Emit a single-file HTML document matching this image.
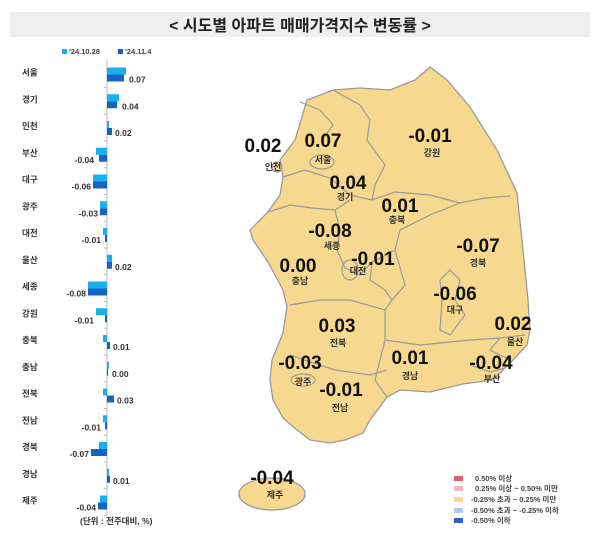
<!DOCTYPE html>
<html><head><meta charset="utf-8"><style>
body{margin:0;background:#fff;}
svg{display:block;font-family:"Liberation Sans","Noto Sans CJK KR",sans-serif;}
.v{font-weight:bold;font-size:19px;fill:#111;text-anchor:middle}
.r{font-size:9px;fill:#333;text-anchor:middle;font-weight:bold}
.l{font-size:8.5px;fill:#333;font-weight:bold}
.n{font-size:8.5px;fill:#333;font-weight:bold}
.g{font-size:7.5px;fill:#444;font-weight:bold}
</style></head><body>
<svg width="600" height="535" viewBox="0 0 600 535" xmlns="http://www.w3.org/2000/svg">
<rect x="10" y="12" width="580" height="25" fill="#efefef"/>
<text x="300" y="31" font-size="16" text-anchor="middle" fill="#222" font-weight="bold">&lt; 시도별 아파트 매매가격지수 변동률 &gt;</text>
<!-- bar legend -->
<rect x="62" y="49" width="5" height="5" fill="#1ab0ee"/><text x="69" y="54" class="g">'24.10.28</text>
<rect x="118" y="49" width="5" height="5" fill="#1565c0"/><text x="125" y="54" class="g">'24.11.4</text>
<line x1="107" y1="60" x2="107" y2="515" stroke="#bbb" stroke-width="1"/>
<g id="bars"></g>
<text x="80" y="524" class="l" font-size="8">(단위 : 전주대비, %)</text>
<!-- map -->
<g fill="#f6d98e" stroke="#9a9a9a" stroke-width="1.3">
<path d="M430,67 L447,80 L470,107 L497,150 L517,193 L523,250 L528,300 L530,330 L527,345 L513,360 L493,380 L463,384 L430,392 L400,390 L387,397 L370,420 L363,433 L345,440 L330,443 L310,440 L297,430 L283,418 L273,400 L270,380 L272,360 L283,333 L287,307 L283,290 L268,262 L253,240 L250,230 L267,213 L280,195 L283,177 L280,160 L295,140 L307,100 L333,90 L360,88 L390,90 L415,80 Z"/>
<circle cx="277" cy="167" r="5"/>
<ellipse cx="272" cy="494" rx="33" ry="16"/>
</g>
<g fill="none" stroke="#9a9a9a" stroke-width="1.2">
<path d="M333,90 L360,105 L370,120 L367,140 L385,165 L375,185 L372,200 L395,192 L430,195 L460,203 L485,198 L510,196"/>
<path d="M283,177 L305,170 L330,178 L350,195 L372,200"/>
<path d="M300,102 L320,110 L333,125 L322,140"/>
<path d="M268,212 L290,205 L312,208 L335,210 L350,200"/>
<path d="M460,203 L430,215 L400,230 L395,250 L405,285 L392,300 L385,310 L350,300 L320,300 L290,305"/>
<path d="M395,250 L372,262 L370,280 L385,290 L392,300"/>
<path d="M335,210 L340,230 L337,250 L345,268 L360,275 L372,262"/>
<path d="M385,310 L385,340 L380,360 L375,380 L387,397"/>
<path d="M290,355 L310,362 L335,370 L370,375 L387,370"/>
<path d="M385,340 L420,345 L470,340 L500,338 L525,335"/>
<path d="M440,280 L450,270 L460,280 L455,300 L465,315 L450,335 L440,330 L442,300 Z"/>
<path d="M500,338 L490,350 L510,360"/>
<path d="M470,365 L490,372 L505,368"/>
<ellipse cx="303" cy="380" rx="12" ry="6"/>
<ellipse cx="350" cy="270" rx="8" ry="10"/>
<ellipse cx="322" cy="162" rx="12" ry="7"/>
</g>
<text x="263" y="152" class="v">0.02</text><text x="273" y="170" class="r">인천</text>
<text x="323" y="147" class="v">0.07</text><text x="323" y="163" class="r">서울</text>
<text x="430" y="142" class="v">-0.01</text><text x="432" y="156" class="r">강원</text>
<text x="348" y="189" class="v">0.04</text><text x="345" y="200" class="r">경기</text>
<text x="400" y="212" class="v">0.01</text><text x="397" y="223" class="r">충북</text>
<text x="330" y="237" class="v">-0.08</text><text x="332" y="249" class="r">세종</text>
<text x="373" y="265" class="v">-0.01</text><text x="358" y="274" class="r">대전</text>
<text x="298" y="272" class="v">0.00</text><text x="300" y="284" class="r">충남</text>
<text x="478" y="252" class="v">-0.07</text><text x="478" y="266" class="r">경북</text>
<text x="455" y="300" class="v">-0.06</text><text x="455" y="313" class="r">대구</text>
<text x="513" y="330" class="v">0.02</text><text x="515" y="345" class="r">울산</text>
<text x="337" y="332" class="v">0.03</text><text x="338" y="346" class="r">전북</text>
<text x="410" y="364" class="v">0.01</text><text x="410" y="379" class="r">경남</text>
<text x="491" y="369" class="v">-0.04</text><text x="492" y="382" class="r">부산</text>
<text x="300" y="369" class="v">-0.03</text><text x="303" y="385" class="r">광주</text>
<text x="341" y="396" class="v">-0.01</text><text x="340" y="411" class="r">전남</text>
<text x="272" y="484" class="v">-0.04</text><text x="275" y="498" class="r">제주</text>
<!-- map legend -->
<rect x="454" y="476" width="9" height="5" fill="#e06070"/><text x="475" y="481" class="g">0.50% 이상</text>
<rect x="454" y="486" width="9" height="5" fill="#f4b8c0"/><text x="475" y="491" class="g">0.25% 이상 ~ 0.50% 미만</text>
<rect x="454" y="497" width="9" height="5" fill="#fbd98a"/><text x="471" y="502" class="g">-0.25% 초과 ~ 0.25% 미만</text>
<rect x="454" y="508" width="9" height="5" fill="#b8c8e8"/><text x="471" y="513" class="g">-0.50% 초과 ~ -0.25% 이하</text>
<rect x="454" y="518" width="9" height="5" fill="#3060c0"/><text x="471" y="523" class="g">-0.50% 이하</text>
</svg>
<script>
var d=[["서울",126,124,"0.07"],["경기",119,117,"0.04"],["인천",109,112,"0.02"],["부산",96,99,"-0.04"],["대구",93,93,"-0.06"],["광주",100,100,"-0.03"],["대전",103,105,"-0.01"],["울산",112,112,"0.02"],["세종",88,88,"-0.08"],["강원",96,105,"-0.01"],["충북",103,110,"0.01"],["충남",109,107.5,"0.00"],["전북",103,114,"0.03"],["전남",103,105,"-0.01"],["경북",99,91,"-0.07"],["경남",109,110,"0.01"],["제주",100,98,"-0.04"]];
var g=document.getElementById("bars"),s="";
d.forEach(function(r,i){var c=74.5+i*26.75;
s+='<text x="22" y="'+(c+1)+'" class="l">'+r[0]+'</text>';
s+='<line x1="104" y1="'+(c+13)+'" x2="107" y2="'+(c+13)+'" stroke="#bbb"/>';
s+='<rect x="'+Math.min(107,r[1])+'" y="'+(c-7)+'" width="'+Math.max(1,Math.abs(r[1]-107))+'" height="7" fill="#1ab0ee"/>';
s+='<rect x="'+Math.min(107,r[2])+'" y="'+c+'" width="'+Math.max(1,Math.abs(r[2]-107))+'" height="7" fill="#1565c0"/>';
var neg=r[3][0]=="-";
if(neg){var lx=Math.min(r[1],r[2])-2;s+='<text x="'+lx+'" y="'+(c+8)+'" class="n" text-anchor="end">'+r[3]+'</text>';}
else{var rx=Math.max(r[1],r[2],108)+3;s+='<text x="'+rx+'" y="'+(c+8)+'" class="n">'+r[3]+'</text>';}
});
g.innerHTML=s;
</script>
</body></html>
